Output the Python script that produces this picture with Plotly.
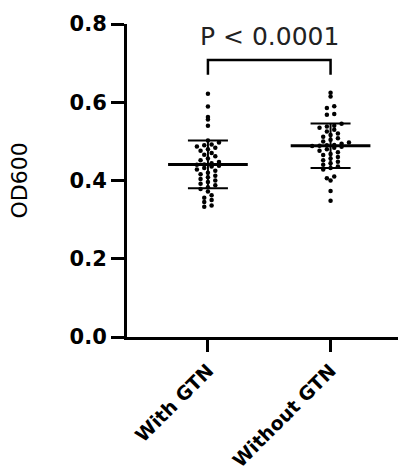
import numpy as np
import plotly.graph_objects as go

# ---------------- data ----------------
groups = ["With GTN", "Without GTN"]
with_gtn = [0.622, 0.589, 0.562, 0.556, 0.540, 0.502, 0.497, 0.492, 0.490, 0.487,
            0.484, 0.480, 0.476, 0.470, 0.466, 0.462, 0.456, 0.452, 0.447, 0.444,
            0.441, 0.440, 0.438, 0.436, 0.432, 0.428, 0.425, 0.420, 0.416, 0.412,
            0.408, 0.404, 0.400, 0.396, 0.392, 0.388, 0.383, 0.378, 0.372, 0.362,
            0.356, 0.350, 0.345, 0.336, 0.333]
without_gtn = [0.624, 0.615, 0.590, 0.585, 0.570, 0.568, 0.545, 0.540, 0.538, 0.535,
               0.530, 0.525, 0.520, 0.516, 0.512, 0.508, 0.504, 0.500, 0.497, 0.494,
               0.491, 0.490, 0.489, 0.488, 0.486, 0.484, 0.480, 0.476, 0.472, 0.468,
               0.465, 0.460, 0.456, 0.452, 0.448, 0.444, 0.440, 0.436, 0.432, 0.428,
               0.410, 0.406, 0.400, 0.373, 0.348]
means = [0.441, 0.489]
sds = [0.061, 0.057]
y_ticks = [0.0, 0.2, 0.4, 0.6, 0.8]
p_label = "P < 0.0001"
y_title = "OD600"


def swarm(vals, center, bin_h=0.012, step=0.06):
    """GraphPad-like scatter: points in the same value band are spread sideways."""
    v = np.sort(np.asarray(vals))
    bins = np.round(v / bin_h).astype(int)
    xs, ys = [], []
    for b in np.unique(bins):
        sel = v[bins == b]
        n = len(sel)
        offs = (np.arange(n) - (n - 1) / 2.0) * step
        xs.extend(center + offs)
        ys.extend(sel)
    return xs, ys


fig = go.Figure()

for i, vals in enumerate([with_gtn, without_gtn]):
    xs, ys = swarm(vals, i)
    fig.add_trace(go.Scatter(x=xs, y=ys, mode="markers",
                             marker=dict(color="black", size=4.5),
                             showlegend=False, hoverinfo="y"))

# mean lines
for i, m in enumerate(means):
    fig.add_trace(go.Scatter(x=[i - 0.325, i + 0.325], y=[m, m], mode="lines",
                             line=dict(color="black", width=3),
                             showlegend=False, hoverinfo="skip"))
# SD bars
fig.add_trace(go.Scatter(x=[0, 1], y=means, mode="markers",
                         marker=dict(size=1, color="rgba(0,0,0,0)"),
                         error_y=dict(type="data", array=sds, visible=True,
                                      color="black", thickness=2, width=20),
                         showlegend=False, hoverinfo="skip"))

# significance bracket
fig.add_trace(go.Scatter(x=[0, 0, 1, 1], y=[0.670, 0.708, 0.708, 0.670], mode="lines",
                         line=dict(color="black", width=2.5),
                         showlegend=False, hoverinfo="skip"))
fig.add_annotation(x=0.5, y=0.767, xref="x", yref="y", text=p_label,
                   showarrow=False,
                   font=dict(family="DejaVu Sans", size=25, color="#222"))

# y-axis title
fig.add_annotation(x=-0.395, y=0.50, xref="paper", yref="paper", text=y_title,
                   textangle=-90, showarrow=False, xanchor="center", yanchor="middle",
                   font=dict(family="DejaVu Sans", size=22, color="black"))

fig.update_layout(
    width=412, height=470,
    margin=dict(l=119, r=22, t=16, b=141),
    paper_bgcolor="white", plot_bgcolor="white",
    showlegend=False,
)
fig.update_xaxes(
    range=[-0.66, 1.55], tickvals=[0, 1], ticktext=groups,
    showline=True, linecolor="black", linewidth=3,
    ticks="outside", ticklen=12, tickwidth=3, tickcolor="black",
    tickangle=-45, showgrid=False, zeroline=False, automargin=False,
    tickfont=dict(family="DejaVu Sans", size=19, color="black", weight="bold"),
)
fig.update_yaxes(
    range=[0, 0.8], tickvals=y_ticks, ticktext=[f"{t:.1f}" for t in y_ticks],
    showline=True, linecolor="black", linewidth=3,
    ticks="outside", ticklen=13, tickwidth=2.5, tickcolor="black",
    showgrid=False, zeroline=False, automargin=False,
    tickfont=dict(family="DejaVu Sans", size=21, color="black", weight="bold"),
)

fig.write_html("out.html")
